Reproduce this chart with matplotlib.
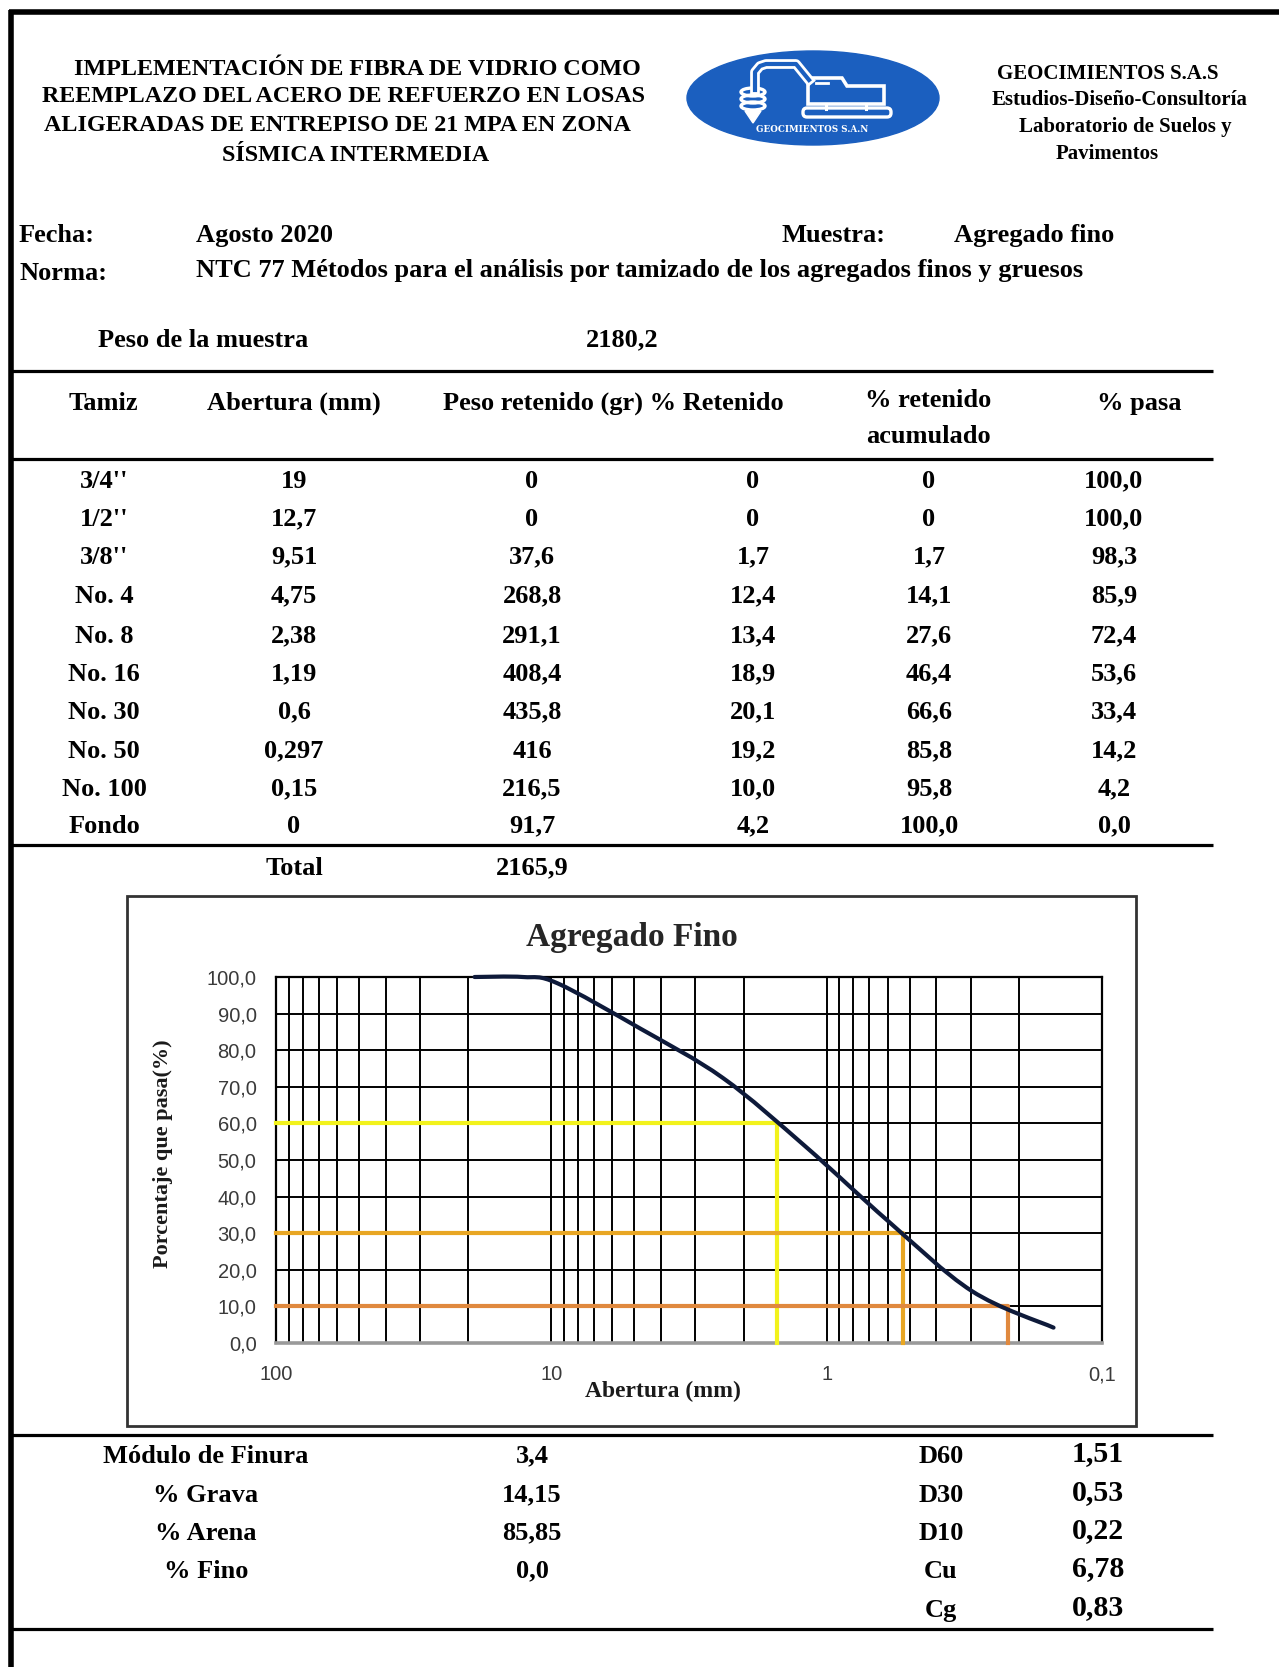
import numpy as np
import matplotlib
matplotlib.use("Agg")
import matplotlib.pyplot as plt
from matplotlib.patches import Ellipse, Rectangle, Polygon, FancyBboxPatch, PathPatch
from matplotlib.path import Path
from matplotlib.ticker import FixedLocator, LogLocator, NullFormatter

# sieve analysis data (NTC 77)
tamiz = ["3/4''", "1/2''", "3/8''", "No. 4", "No. 8", "No. 16", "No. 30", "No. 50", "No. 100", "Fondo"]
abertura = [19, 12.7, 9.51, 4.75, 2.38, 1.19, 0.6, 0.297, 0.15, 0]
peso_ret = [0, 0, 37.6, 268.8, 291.1, 408.4, 435.8, 416, 216.5, 91.7]
pct_ret = [0, 0, 1.7, 12.4, 13.4, 18.9, 20.1, 19.2, 10.0, 4.2]
pct_acum = [0, 0, 1.7, 14.1, 27.6, 46.4, 66.6, 85.8, 95.8, 100.0]
pct_pasa = [100.0, 100.0, 98.3, 85.9, 72.4, 53.6, 33.4, 14.2, 4.2, 0.0]
peso_muestra = 2180.2
total = 2165.9

res_labels = ["Módulo de Finura", "% Grava", "% Arena", "% Fino"]
res_values = [3.4, 14.15, 85.85, 0.0]
coef_labels = ["D60", "D30", "D10", "Cu", "Cg"]
coef_values = [1.51, 0.53, 0.22, 6.78, 0.83]

d_sizes = [1.51, 0.53, 0.22]
d_pcts = [60, 30, 10]
d_colors = ["#F2F21C", "#E8A623", "#E0893E"]

xticks = [100, 10, 1, 0.1]
xtick_labels = ["100", "10", "1", "0,1"]
yticks = [0, 10, 20, 30, 40, 50, 60, 70, 80, 90, 100]

fmt = lambda v: str(v).replace(".", ",")

W, H = 1279, 1667
SERIF = "Liberation Serif"
BLUE = "#1B5FBF"
fig = plt.figure(figsize=(W / 100, H / 100), dpi=100)
bg = fig.add_axes([0, 0, 1, 1])
bg.set_xlim(0, W); bg.set_ylim(H, 0); bg.axis("off")


def T(x, y, s, size=19, ha="center", **kw):
    bg.text(x, y, s, fontsize=size, ha=ha, va="center", fontfamily=SERIF, fontweight="bold", **kw)


# page frame and table rules
bg.plot([9, W], [12, 12], color="k", lw=4, solid_capstyle="butt")
bg.plot([11, 11], [10, H], color="k", lw=4, solid_capstyle="butt")
for yy in [371, 459, 845, 1435, 1629]:
    bg.plot([11, 1213], [yy, yy], color="k", lw=2.3, solid_capstyle="butt")

# header
T(357, 69, "IMPLEMENTACIÓN DE FIBRA DE VIDRIO COMO", 17.4)
T(344, 96, "REEMPLAZO DEL ACERO DE REFUERZO EN LOSAS", 17.4)
T(337, 125, "ALIGERADAS DE ENTREPISO DE 21 MPA EN ZONA", 17.4)
T(356, 155, "SÍSMICA INTERMEDIA", 17.4)
T(1108, 74, "GEOCIMIENTOS S.A.S", 15)
T(1120, 100, "Estudios-Diseño-Consultoría", 15)
T(1125, 127, "Laboratorio de Suelos y", 15)
T(1107, 154, "Pavimentos", 15)

# logo
bg.add_patch(Ellipse((813, 98), 252, 94, color=BLUE))
pipe_x = [755, 755, 760, 766, 796, 809]
pipe_y = [90, 72, 66, 64, 64, 80]
bg.plot(pipe_x, pipe_y, color="white", lw=7, solid_joinstyle="round")
bg.plot(pipe_x, pipe_y, color=BLUE, lw=3, solid_joinstyle="round")
for cy in [92, 99, 106]:
    bg.add_patch(Ellipse((753, cy), 24, 8, fill=False, ec="white", lw=2.4))
bg.add_patch(Polygon([(745, 111), (761, 111), (753, 123)], color="white"))
bg.add_patch(Polygon([(808, 78), (842, 78), (847, 86), (884, 86), (884, 104), (808, 104)],
                     fill=False, ec="white", lw=2.6))
bg.plot([816, 828], [83, 83], color="white", lw=2)
bg.plot([826, 826], [104, 109], color="white", lw=2.2)
bg.plot([866, 866], [104, 109], color="white", lw=2.2)
bg.add_patch(FancyBboxPatch((803, 108), 88, 9, boxstyle="round,pad=0,rounding_size=4",
                            fill=False, ec="white", lw=2.4))
bg.text(812, 129, "GEOCIMIENTOS S.A.N", fontsize=6.3, color="white", ha="center", va="center",
        fontfamily="DejaVu Serif", fontweight="bold")

# fecha / norma
T(19, 235, "Fecha:", ha="left")
T(196, 235, "Agosto 2020", ha="left")
T(781, 235, "Muestra:", ha="left")
T(954, 235, "Agregado fino", ha="left")
T(19, 273, "Norma:", ha="left")
T(196, 270, "NTC 77 Métodos para el análisis por tamizado de los agregados finos y gruesos", ha="left")
T(98, 340, "Peso de la muestra", ha="left")
T(622, 340, fmt(peso_muestra))

# table header
T(103, 403, "Tamiz")
T(294, 403, "Abertura (mm)")
T(443, 403, "Peso retenido (gr) % Retenido", ha="left")
T(928, 400, "% retenido")
T(928, 436, "acumulado")
T(1139, 403, "% pasa")

# table body
row_y = [481, 519, 557, 596, 636, 674, 712, 751, 789, 826]
cols = [104, 294, 532, 753, 929, 1114]
for i, yy in enumerate(row_y):
    cells = [tamiz[i], fmt(abertura[i]), fmt(peso_ret[i]), fmt(pct_ret[i]), fmt(pct_acum[i]),
             f"{pct_pasa[i]:.1f}".replace(".", ",")]
    for cx, s in zip(cols, cells):
        T(cx, yy, s)
T(294, 868, "Total")
T(532, 868, fmt(total))

# summary
sum_y = [1456, 1495, 1533, 1571, 1610]
for i, (lab, v) in enumerate(zip(res_labels, res_values)):
    T(206, sum_y[i], lab)
    T(532, sum_y[i], fmt(v))
for i, (lab, v) in enumerate(zip(coef_labels, coef_values)):
    T(941, sum_y[i], lab)
    T(1098, sum_y[i] - 2, fmt(v), 21.5)

# chart frame and labels
bg.add_patch(Rectangle((127, 896), 1009, 530, fill=False, ec="#333333", lw=2))
bg.text(632, 937, "Agregado Fino", fontsize=24, ha="center", va="center", fontfamily=SERIF,
        fontweight="bold", color="#262626")
bg.text(663, 1391, "Abertura (mm)", fontsize=17, ha="center", va="center", fontfamily=SERIF,
        fontweight="bold", color="#1a1a1a")
bg.text(163, 1154, "Porcentaje que pasa(%)", fontsize=16, ha="center", va="center", rotation=90,
        fontfamily=SERIF, fontweight="bold", color="#1a1a1a")

ax = fig.add_axes([276 / W, 1 - 1343 / H, 826 / W, 366 / H])
ax.set_xscale("log")
ax.set_xlim(100, 0.1)
ax.set_ylim(0, 100)
ax.xaxis.set_major_locator(FixedLocator(xticks))
ax.set_xticklabels(xtick_labels)
ax.xaxis.set_minor_locator(LogLocator(base=10, subs=range(2, 10)))
ax.xaxis.set_minor_formatter(NullFormatter())
ax.set_yticks(yticks)
ax.set_yticklabels([f"{v:.1f}".replace(".", ",") for v in yticks])
ax.grid(which="both", axis="x", color="k", lw=1.4)
ax.grid(which="major", axis="y", color="k", lw=1.4)
ax.tick_params(which="both", length=0, labelsize=14.5, labelcolor="#3a3a3a")
ax.tick_params(axis="y", pad=14)
ax.tick_params(axis="x", pad=16)
for lbl in ax.get_xticklabels() + ax.get_yticklabels():
    lbl.set_fontfamily("Liberation Sans")
for s in ["top", "right", "left"]:
    ax.spines[s].set_color("k"); ax.spines[s].set_linewidth(1.6)
ax.spines["bottom"].set_color("#9a9a9a"); ax.spines["bottom"].set_linewidth(2.6)

for d, p, c in zip(d_sizes, d_pcts, d_colors):
    ax.plot([100, d, d], [p, p, 0], color=c, lw=3, zorder=3, clip_on=False)

# smoothed grading curve (Catmull-Rom bezier in log-x space, like a spreadsheet smoothed line)
lx = np.log10(abertura[:9]); py = np.array(pct_pasa[:9])
pts = np.column_stack([lx, py])
verts, codes = [pts[0]], [Path.MOVETO]
for i in range(len(pts) - 1):
    p0 = pts[max(i - 1, 0)]; p1 = pts[i]; p2 = pts[i + 1]; p3 = pts[min(i + 2, len(pts) - 1)]
    verts += [p1 + (p2 - p0) / 6, p2 - (p3 - p1) / 6, p2]
    codes += [Path.CURVE4] * 3
verts = np.array(verts); verts[:, 0] = 10 ** verts[:, 0]
ax.add_patch(PathPatch(Path(verts, codes), fill=False, ec="#0E1A3A", lw=3, zorder=4,
                       capstyle="round", clip_on=False))

fig.savefig("out.png", dpi=100)
